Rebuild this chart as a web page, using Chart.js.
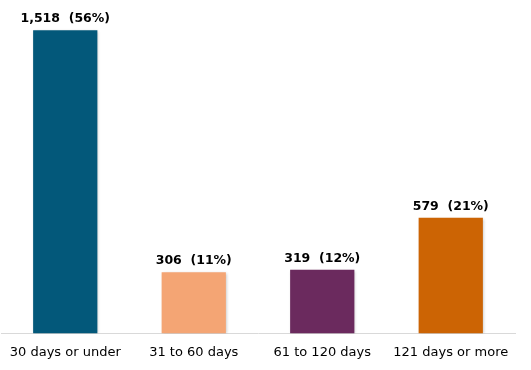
<!DOCTYPE html>
<html>
<head>
<meta charset="utf-8">
<script src="https://cdn.jsdelivr.net/npm/chart.js@4/dist/chart.umd.min.js"></script>
<style>
  html, body { margin: 0; padding: 0; background: #fff; }
</style>
</head>
<body>
<canvas id="ageChart" width="531" height="370"></canvas>
<script>
const categories = ["30 days or under", "31 to 60 days", "61 to 120 days", "121 days or more"];
const counts = [1518, 306, 319, 579];
const shares = ["56%", "11%", "12%", "21%"];
const barColors = ["#03587a", "#f4a574", "#6b2a5e", "#cc6404"];

// labels above each bar: "count (share)"
const valueLabels = {
    id: "valueLabels",
    afterDatasetsDraw(chart) {
        const ctx = chart.ctx;
        const meta = chart.getDatasetMeta(0);
        ctx.save();
        ctx.font = "bold 12.5px 'DejaVu Sans'";
        ctx.fillStyle = "#000";
        ctx.textAlign = "center";
        ctx.textBaseline = "bottom";
        meta.data.forEach((bar, i) => {
            const txt = counts[i].toLocaleString("en-US") + "  (" + shares[i] + ")";
            ctx.fillText(txt, bar.x, bar.y - 5);
        });
        ctx.restore();
    }
};

const barShadow = {
    id: "barShadow",
    beforeDatasetDraw(chart) {
        const ctx = chart.ctx;
        ctx.save();
        ctx.shadowColor = "rgba(0,0,0,0.25)";
        ctx.shadowBlur = 3;
        ctx.shadowOffsetX = 1;
        ctx.shadowOffsetY = 1;
    },
    afterDatasetDraw(chart) {
        chart.ctx.restore();
    }
};

new Chart(document.getElementById("ageChart").getContext("2d"), {
    type: "bar",
    data: {
        labels: categories,
        datasets: [{
            data: counts,
            backgroundColor: barColors,
            borderWidth: 0,
            categoryPercentage: 1,
            barPercentage: 0.5
        }]
    },
    options: {
        responsive: false,
        animation: false,
        devicePixelRatio: 1,
        layout: { padding: { top: 14, left: 1, right: 16, bottom: 7 } },
        plugins: {
            legend: { display: false },
            tooltip: { enabled: false }
        },
        scales: {
            x: {
                grid: { display: false },
                border: { color: "#d9d9d9", width: 1 },
                ticks: {
                    color: "#000",
                    font: { family: "'DejaVu Sans'", size: 13 },
                    padding: 3,
                    maxRotation: 0
                }
            },
            y: {
                display: false,
                min: 0,
                max: 1600
            }
        }
    },
    plugins: [barShadow, valueLabels]
});
</script>
</body>
</html>
